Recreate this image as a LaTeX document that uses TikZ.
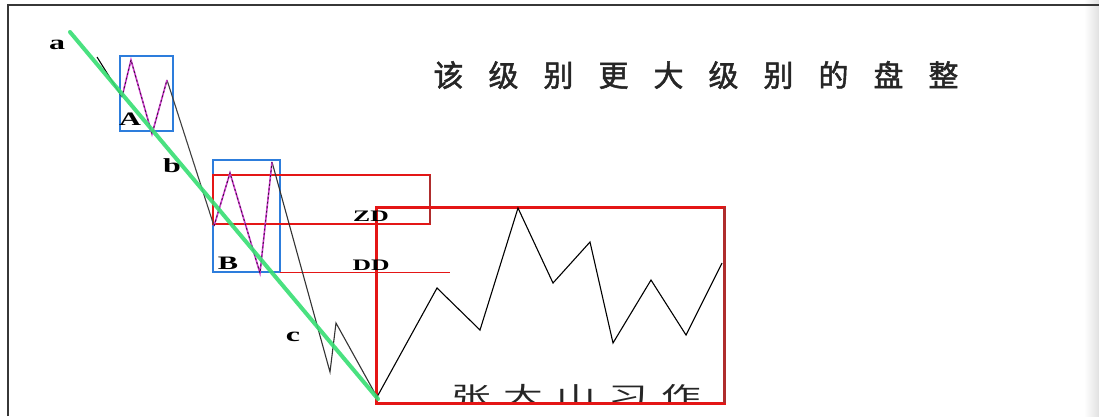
\documentclass[tikz,border=0pt]{standalone}
\usepackage{fontspec}
\setmainfont{Liberation Serif}
\newfontfamily\cjk{Noto Sans CJK SC}
\newfontfamily\cjkt{Noto Sans CJK SC}[FakeBold=1.6]
\newcommand\tch[1]{\makebox[55pt]{#1}}
\newcommand\bch[1]{\makebox[31.8pt]{#1}}
\newcommand\lbl[2]{\fontsize{#1}{#1}\selectfont\bfseries\scalebox{1.6}[1]{#2}}
\definecolor{gline}{RGB}{55,222,115}
\definecolor{bbox}{RGB}{45,125,220}
\definecolor{mline}{RGB}{205,60,205}
\definecolor{rbox}{RGB}{228,22,22}
\definecolor{rdark}{RGB}{175,45,45}
\definecolor{frame}{RGB}{55,55,55}
\begin{document}
\begin{tikzpicture}[x=1pt,y=-1pt,
  price/.style={black, line width=1.1pt, line join=miter},
  sub/.style={mline, line width=1.6pt},
  subdash/.style={black!70!mline, line width=0.9pt, dash pattern=on 2pt off 2.5pt},
  bluebox/.style={draw=bbox, line width=1.6pt},
  redbig/.style={draw=rbox, line width=3pt},
  redsmall/.style={draw=rbox, line width=2pt},
  trend/.style={gline, line width=4pt, line cap=round},
  label/.style={inner sep=0pt, text=black}]
\useasboundingbox (0,0) rectangle (1099,416);
\fill[white] (0,0) rectangle (1099,416);
\shade[left color=white, right color=black!12, shading angle=90] (1084,0) rectangle (1099,416);
% frame
\draw[frame, line width=2.2pt] (8,416) -- (8,5) -- (1099,5);

% named points of the price path
\coordinate (p0) at (97,57);
\coordinate (p1) at (122,97);
\coordinate (p2) at (131,60);
\coordinate (p3) at (152,134);
\coordinate (p4) at (167,80);
\coordinate (p5) at (214,226);
\coordinate (p6) at (230,173);
\coordinate (p7) at (260,273);
\coordinate (p8) at (272,162);
\coordinate (p9) at (330,372);
\coordinate (p10) at (336,323);
\coordinate (p11) at (377,397);
\coordinate (q1) at (437,288);
\coordinate (q2) at (480,330);
\coordinate (q3) at (518,208);
\coordinate (q4) at (553,283);
\coordinate (q5) at (590,242);
\coordinate (q6) at (613,343);
\coordinate (q7) at (651,280);
\coordinate (q8) at (686,335);
\coordinate (q9) at (722,263);
\coordinate (g0) at (70,32);
\coordinate (g1) at (378,399);
\coordinate (dd0) at (280,272);
\coordinate (dd1) at (450,272);

% bottom signature (its foot hidden by the box edge)
\begin{scope}
\clip (400,360) rectangle (740,402);
\node[label, anchor=base, text=black!85] (sig) at (576,404)
  {\cjk\fontsize{24}{24}\selectfont\scalebox{1.65}[1]{\bch{张}\bch{大}\bch{山}\bch{习}\bch{作}}};
\end{scope}

% boxes
\node[bluebox, minimum width=53pt, minimum height=75pt, inner sep=0pt] (boxA) at (146.5,93.5) {};
\node[bluebox, minimum width=67pt, minimum height=112pt, inner sep=0pt] (boxB) at (246.5,216) {};
\draw[redsmall] (213,175) rectangle (430,224);
\draw[rdark, line width=2pt] (430,175) -- (430,224);
\draw[rbox, line width=1pt] (dd0) -- (dd1);
\draw[redbig] (376,207) rectangle (724,403);
\draw[rdark, line width=3pt] (724,207) -- (724,403);

% price path
\draw[price] (p0) -- (p1);
\draw[price, black!75] (p4) -- (p5);
\draw[price, black!80] (p8) -- (p9) -- (p10) -- (p11);
\draw[price] (p11) -- (q1) -- (q2) -- (q3) -- (q4) -- (q5) -- (q6) -- (q7) -- (q8) -- (q9);
\draw[sub] (p1) -- (p2) -- (p3) -- (p4);
\draw[subdash] (p1) -- (p2) -- (p3) -- (p4);
\draw[sub] (p5) -- (p6) -- (p7) -- (p8);
\draw[subdash] (p5) -- (p6) -- (p7) -- (p8);

% trend line
\draw[trend, opacity=0.9] (g0) -- (g1);

% labels
\node[label] (la) at (57,45) {\lbl{20}{a}};
\node[label] (lA) at (130,119) {\lbl{19}{A}};
\node[label] (lb) at (172,166) {\lbl{20}{b}};
\node[label] (lB) at (228,263) {\lbl{19}{B}};
\node[label] (lc) at (293,337) {\lbl{20}{c}};
\node[label] (zd) at (371,216) {\lbl{16}{ZD}};
\node[label] (dd) at (371,265) {\lbl{16}{DD}};

% title
\node[label, text=black!85] (title) at (696,75)
  {\cjkt\fontsize{30}{30}\selectfont\tch{该}\tch{级}\tch{别}\tch{更}\tch{大}\tch{级}\tch{别}\tch{的}\tch{盘}\tch{整}};
\end{tikzpicture}
\end{document}
